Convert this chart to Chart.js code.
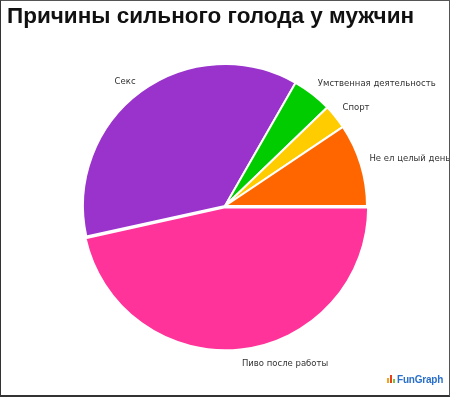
<!DOCTYPE html>
<html>
<head>
<meta charset="utf-8">
<script src="https://cdn.jsdelivr.net/npm/chart.js@4/dist/chart.umd.min.js"></script>
<style>
  html, body { margin: 0; padding: 0; background: #fff; }
  #wrap { position: relative; width: 450px; height: 397px; overflow: hidden; background: #fff; }
  #c { position: absolute; left: 0; top: 0; }
  #title { position: absolute; left: 7px; top: 3px; font-family: "Liberation Sans", Arial, sans-serif; font-weight: bold; font-size: 22.5px; color: #111; white-space: nowrap; }
  #frame { position: absolute; left: 0; top: 0; width: 450px; height: 397px; box-sizing: border-box; border: 1px solid #555; border-bottom: 2px solid #333; border-left-color: #333; pointer-events: none; }
  #logo { position: absolute; left: 387px; top: 374px; height: 12px; white-space: nowrap; font-family: "Liberation Sans", Arial, sans-serif; font-weight: bold; font-size: 10px; color: #2a6fc9; letter-spacing: -0.2px; }
  #logo .b { display: inline-block; width: 2px; margin-right: 1px; vertical-align: baseline; }
</style>
</head>
<body>
<div id="wrap">
  <canvas id="c" width="450" height="397"></canvas>
  <div id="title">Причины сильного голода у мужчин</div>
  <div id="logo"><span class="b" style="height:5px;background:#f7a21b"></span><span class="b" style="height:8px;background:#e8401c"></span><span class="b" style="height:4px;background:#7fc241;margin-right:2px"></span>FunGraph</div>
  <div id="frame"></div>
</div>
<script>
const categories = ["Пиво после работы", "Секс", "Умственная деятельность", "Спорт", "Не ел целый день"];
const values = [46.5, 36.7, 4.5, 2.8, 9.4];
const colors = ["#ff3399", "#9933cc", "#00cc00", "#ffcc00", "#ff6600"];
const offsets = [5, 0, 0, 0, 0];

const outsideLabels = {
  id: "outsideLabels",
  afterDatasetsDraw(chart) {
    const ctx = chart.ctx;
    const meta = chart.getDatasetMeta(0);
    ctx.save();
    ctx.font = "8.5px 'DejaVu Sans', Verdana, sans-serif";
    ctx.fillStyle = "#333";
    ctx.textBaseline = "middle";
    meta.data.forEach((arc, i) => {
      const p = arc.getProps(["x", "y", "startAngle", "endAngle", "outerRadius"], true);
      const mid = (p.startAngle + p.endAngle) / 2;
      const off = arc.options.offset || 0;
      const r = p.outerRadius + 9 + off;
      const cx = Math.cos(mid), sy = Math.sin(mid);
      const ax = p.x + cx * r;
      const ay = p.y + sy * r + (sy < 0 ? -3 : 3);
      ctx.textAlign = cx < 0 ? "right" : "left";
      ctx.fillText(chart.data.labels[i], ax, ay);
    });
    ctx.restore();
  }
};

new Chart(document.getElementById("c"), {
  type: "pie",
  data: {
    labels: categories,
    datasets: [{
      data: values,
      backgroundColor: colors,
      borderColor: "#ffffff",
      borderWidth: 2,
      offset: offsets
    }]
  },
  options: {
    responsive: false,
    animation: false,
    rotation: 90,
    radius: 142,
    layout: { padding: { left: 0, right: 0, top: 15, bottom: 0 } },
    events: [],
    plugins: {
      legend: { display: false },
      tooltip: { enabled: false },
      title: { display: false }
    }
  },
  plugins: [outsideLabels]
});
</script>
</body>
</html>
